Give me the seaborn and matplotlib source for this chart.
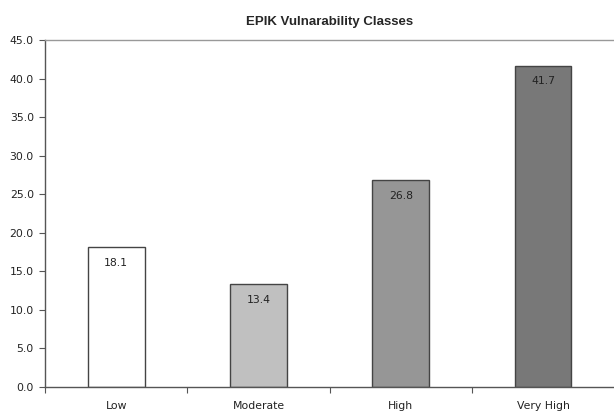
import matplotlib
matplotlib.use("Agg")
import matplotlib.pyplot as plt
import seaborn as sns
import pandas as pd
import numpy as np

# Data
categories = ["Low", "Moderate", "High", "Very High"]
values = [18.1, 13.4, 26.8, 41.7]
bar_colors = ["#ffffff", "#c0c0c0", "#969696", "#787878"]
y_ticks = [0, 5, 10, 15, 20, 25, 30, 35, 40, 45]

df = pd.DataFrame({"cls": categories, "pct": values})

sns.set_style("white")
plt.rcParams["font.family"] = ["DejaVu Sans"]

fig = plt.figure(figsize=(6.14, 4.13), dpi=100)
ax = fig.add_axes([0.0733, 0.063, 0.927, 0.84])

sns.barplot(data=df, x="cls", y="pct", hue="cls", palette=bar_colors,
            width=0.4, edgecolor="#444444", linewidth=1.0, legend=False,
            saturation=1, ax=ax)

# value labels inside the top of each bar
for p in ax.patches:
    h = p.get_height()
    ax.annotate(f"{h:.1f}", (p.get_x() + p.get_width() / 2, h),
                xytext=(0, -11.5), textcoords="offset points",
                ha="center", va="center", fontsize=7.8, color="#222222")

ax.set_xlim(-0.5, len(categories) - 0.5)
ax.set_ylim(0, 45)
ax.set_yticks(y_ticks)
ax.set_yticklabels([f"{t:.1f}" for t in y_ticks])

# Excel-style: tick marks between categories, labels at centres
ax.set_xticks(np.arange(len(categories)) - 0.5)
ax.set_xticklabels([])
ax.set_xticks(np.arange(len(categories)), minor=True)
ax.set_xticklabels(categories, minor=True)
ax.tick_params(axis="x", which="major", length=4, direction="out", color="#555555", bottom=True)
ax.tick_params(axis="x", which="minor", length=0, pad=10, labelsize=7.8, labelcolor="#222222")
ax.tick_params(axis="y", length=4, direction="out", color="#555555", left=True,
               labelsize=7.8, labelcolor="#222222", pad=4)

ax.set_xlabel("")
ax.set_ylabel("")
ax.set_title("EPIK Vulnarability Classes", fontsize=9.5, fontweight="bold",
             family=["Liberation Sans", "DejaVu Sans"], pad=11)

for s in ["left", "bottom"]:
    ax.spines[s].set_color("#555555")
    ax.spines[s].set_linewidth(1.0)
ax.spines["top"].set_color("#999999")
ax.spines["top"].set_linewidth(1.0)
ax.spines["right"].set_visible(False)

fig.savefig("out.png", dpi=100)
